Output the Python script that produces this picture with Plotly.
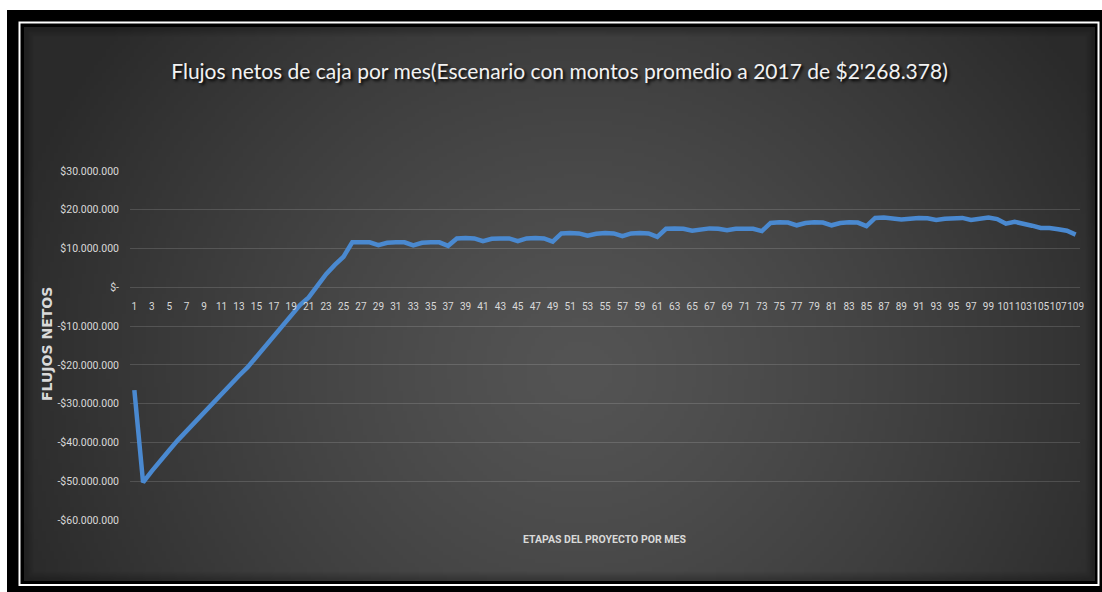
import base64
import struct
import zlib

import numpy as np
import plotly.graph_objects as go

# Figure size in pixels
W, H = 1102, 592

# ---- data -----------------------------------------------------------------
meses = list(range(1, 110))

flujos_netos = [
    -26_500_000, -50_300_000, -47_400_000, -44_900_000, -42_000_000,
    -39_400_000, -37_000_000, -34_500_000, -32_000_000, -29_600_000,
    -27_200_000, -24_900_000, -22_800_000, -20_600_000, -17_900_000,
    -15_200_000, -12_500_000, -9_800_000, -7_000_000, -4_600_000,
    -2_600_000, 600_000, 3_400_000, 5_800_000, 7_900_000,
    11_600_000, 11_700_000, 11_600_000, 10_900_000, 11_500_000,
    11_600_000, 11_600_000, 10_800_000, 11_500_000, 11_600_000,
    11_600_000, 10_700_000, 12_600_000, 12_700_000, 12_600_000,
    11_900_000, 12_500_000, 12_600_000, 12_600_000, 11_900_000,
    12_600_000, 12_700_000, 12_600_000, 11_800_000, 13_900_000,
    14_000_000, 13_900_000, 13_300_000, 13_800_000, 14_000_000,
    13_900_000, 13_200_000, 13_900_000, 14_000_000, 13_900_000,
    13_000_000, 15_100_000, 15_200_000, 15_100_000, 14_600_000,
    15_000_000, 15_200_000, 15_100_000, 14_700_000, 15_100_000,
    15_200_000, 15_100_000, 14_500_000, 16_600_000, 16_800_000,
    16_700_000, 16_000_000, 16_600_000, 16_800_000, 16_700_000,
    16_000_000, 16_600_000, 16_800_000, 16_700_000, 15_800_000,
    17_900_000, 18_000_000, 17_800_000, 17_500_000, 17_700_000,
    17_900_000, 17_800_000, 17_400_000, 17_700_000, 17_900_000,
    17_900_000, 17_400_000, 17_800_000, 18_000_000, 17_600_000,
    16_400_000, 16_900_000, 16_500_000, 15_900_000, 15_300_000,
    15_300_000, 15_000_000, 14_600_000, 13_600_000,
]

y_tick_values = [30_000_000, 20_000_000, 10_000_000, 0, -10_000_000,
                 -20_000_000, -30_000_000, -40_000_000, -50_000_000,
                 -60_000_000]
y_tick_labels = ["$30.000.000", "$20.000.000", "$10.000.000", "$-",
                 "-$10.000.000", "-$20.000.000", "-$30.000.000",
                 "-$40.000.000", "-$50.000.000", "-$60.000.000"]

x_tick_values = list(range(1, 110, 2))
x_tick_labels = [str(m) for m in x_tick_values]

TITLE = "Flujos netos de caja por mes(Escenario con montos promedio a 2017 de $2'268.378)"
X_TITLE = "ETAPAS DEL PROYECTO POR MES"
Y_TITLE = "FLUJOS NETOS"

# ---- geometry (pixels -> paper fractions, margins are zero) ----------------
def fx(px):
    return px / W


def fy(py):
    return 1 - py / H


CHART_L, CHART_T, CHART_R, CHART_B = 24, 27, 1095, 581   # dark chart panel
PLOT_L, PLOT_R = 130, 1080                                # plot area
PLOT_T, PLOT_B = 171, 520                                 # $30M .. -$60M

Y_MIN, Y_MAX = -60_000_000, 30_000_000
y_dom = [fy(PLOT_B), fy(PLOT_T)]
zero_pos = y_dom[0] + (0 - Y_MIN) / (Y_MAX - Y_MIN) * (y_dom[1] - y_dom[0])


# ---- panel background: soft radial grey gradient as a small PNG ------------
def gray_png(arr):
    h, w = arr.shape
    raw = b"".join(b"\x00" + arr[r].tobytes() for r in range(h))

    def chunk(tag, data):
        return (struct.pack(">I", len(data)) + tag + data
                + struct.pack(">I", zlib.crc32(tag + data) & 0xFFFFFFFF))

    return (b"\x89PNG\r\n\x1a\n"
            + chunk(b"IHDR", struct.pack(">IIBBBBB", w, h, 8, 0, 0, 0, 0))
            + chunk(b"IDAT", zlib.compress(raw, 9))
            + chunk(b"IEND", b""))


gw, gh = (CHART_R - CHART_L) // 4, (CHART_B - CHART_T) // 4
u = (np.arange(gw) + 0.5) / gw
v = (np.arange(gh) + 0.5) / gh
U, V = np.meshgrid(u, v)
d = np.sqrt(((U - 0.52) / 0.56) ** 2 + ((V - 0.62) / 1.0) ** 2)
g = 84 - 42 * np.clip(d, 0, 1) ** 1.3
# darker rim along the panel edges
edge_px = np.minimum.reduce([U * (CHART_R - CHART_L), (1 - U) * (CHART_R - CHART_L),
                             V * (CHART_B - CHART_T), (1 - V) * (CHART_B - CHART_T)])
g *= 0.72 + 0.28 * np.clip(edge_px / 10, 0, 1)
bg_uri = "data:image/png;base64," + base64.b64encode(
    gray_png(np.clip(g, 0, 255).astype(np.uint8))).decode()

# ---- figure -----------------------------------------------------------------
fig = go.Figure()

fig.add_trace(go.Scatter(
    x=meses, y=flujos_netos, mode="lines",
    line=dict(color="#4a89d0", width=4.5),
    hoverinfo="x+y", showlegend=False,
))

label_font = "Roboto, Liberation Sans, sans-serif"

fig.update_layout(
    width=W, height=H,
    margin=dict(l=0, r=0, t=0, b=0, pad=0, autoexpand=False),
    paper_bgcolor="white",
    plot_bgcolor="rgba(0,0,0,0)",
    showlegend=False,
    title=dict(
        text=TITLE, x=fx((CHART_L + CHART_R) / 2), y=fy(72),
        xanchor="center", yanchor="middle", xref="paper", yref="paper",
        automargin=False,
        font=dict(family="Lato, Roboto, sans-serif", size=21, color="#f2f2f2",
                  shadow="2px 2px 3px #000000"),
    ),
    xaxis=dict(
        domain=[fx(PLOT_L), fx(PLOT_R)],
        range=[0.5, 109.5],
        anchor="free", position=zero_pos, automargin=False,
        tickmode="array", tickvals=x_tick_values, ticktext=x_tick_labels,
        tickangle=0, ticks="", showgrid=False, zeroline=False,
        showline=False, ticklabelstandoff=12,
        tickfont=dict(family=label_font, size=10, color="#d9d9d9"),
    ),
    yaxis=dict(
        domain=y_dom,
        range=[Y_MIN, Y_MAX], automargin=False,
        tickmode="array", tickvals=y_tick_values, ticktext=y_tick_labels,
        ticks="", showgrid=True, gridcolor="rgba(255,255,255,0.14)",
        gridwidth=1, zeroline=False, showline=False,
        ticklabelstandoff=10,
        tickfont=dict(family=label_font, size=10.5, color="#d9d9d9"),
    ),
)

# panel gradient
fig.add_layout_image(
    source=bg_uri, xref="paper", yref="paper",
    x=fx(CHART_L), y=fy(CHART_T),
    sizex=fx(CHART_R) - fx(CHART_L), sizey=fy(CHART_T) - fy(CHART_B),
    xanchor="left", yanchor="top", sizing="stretch", layer="below",
)


def rect_path(x0, y0, x1, y1):
    return (f"M{fx(x0)},{fy(y0)} L{fx(x1)},{fy(y0)} "
            f"L{fx(x1)},{fy(y1)} L{fx(x0)},{fy(y1)} Z")


# black frame around the panel (outer edge minus the panel)
fig.add_shape(
    type="path", xref="paper", yref="paper", layer="below",
    path=rect_path(7, 10, W, H) + " " + rect_path(CHART_L, CHART_T, CHART_R, CHART_B),
    fillcolor="black", fillrule="evenodd", line=dict(width=0),
)
# thin white rule inside the black frame
fig.add_shape(
    type="rect", xref="paper", yref="paper", layer="below",
    x0=fx(19.5), y0=fy(22.5), x1=fx(1098.5), y1=fy(585),
    line=dict(color="white", width=2), fillcolor="rgba(0,0,0,0)",
)

# axis titles
fig.add_annotation(
    text=Y_TITLE, xref="paper", yref="paper", x=fx(47), y=fy(344),
    xanchor="center", yanchor="middle", textangle=-90, showarrow=False,
    font=dict(family="DejaVu Sans, Verdana, sans-serif", size=14,
              color="#d9d9d9", weight="bold"),
)
fig.add_annotation(
    text=X_TITLE, xref="paper", yref="paper", x=fx(604), y=fy(539),
    xanchor="center", yanchor="middle", showarrow=False,
    font=dict(family=label_font, size=10.5, color="#d9d9d9", weight="bold"),
)

fig.write_html("out.html", post_script="document.body.style.margin = '0';")
